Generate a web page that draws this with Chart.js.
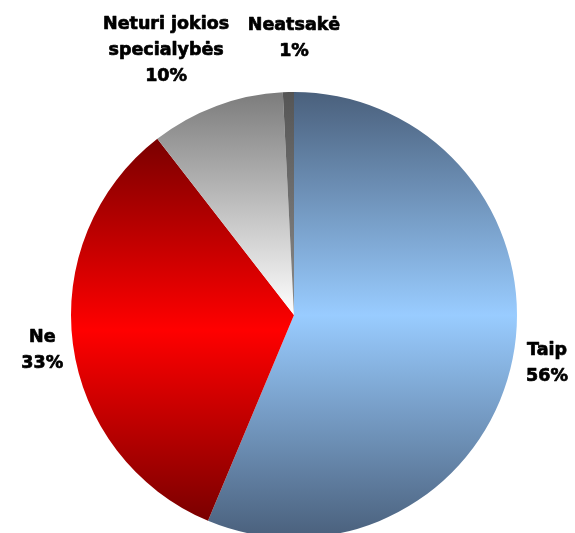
<!DOCTYPE html>
<html><head><meta charset="utf-8">
<script src="https://cdn.jsdelivr.net/npm/chart.js@4.4.0/dist/chart.umd.min.js"></script>
<style>
html,body{margin:0;padding:0;background:#fff;overflow:hidden;width:575px;height:533px}
#wrap{position:relative;width:575px;height:545px}
</style></head>
<body><div id="wrap"><canvas id="c"></canvas></div>
<script>
const categories = ['Taip', 'Ne', 'Neturi jokios specialybės', 'Neatsakė'];
const values = [56.3, 33.2, 9.7, 0.8];
const labelLines = [['Taip'], ['Ne'], ['Neturi jokios', 'specialybės'], ['Neatsakė']];
const gradientStops = [
  ['#4a607c', '#99ccff', '#4a607c'],
  ['#7a0000', '#ff0000', '#7a0000'],
  ['#7c7c7c', '#ffffff'],
  ['#555555', '#8a8a8a']
];
const labelNudges = [[4, -2], [0, 1], [-25, -10], [7, -18]];

const total = values.reduce((a, b) => a + b, 0);

function sliceYRange(i, cy, r) {
  let cum = 0;
  for (let k = 0; k < i; k++) cum += values[k];
  const a0 = -Math.PI / 2 + 2 * Math.PI * cum / total;
  const a1 = a0 + 2 * Math.PI * values[i] / total;
  const ys = [cy, cy + r * Math.sin(a0), cy + r * Math.sin(a1)];
  const contains = (a) => {
    for (let t = a - 4 * Math.PI; t <= a + 4 * Math.PI; t += 2 * Math.PI) {
      if (t >= a0 && t <= a1) return true;
    }
    return false;
  };
  if (contains(-Math.PI / 2)) ys.push(cy - r);
  if (contains(Math.PI / 2)) ys.push(cy + r);
  return [Math.min(...ys), Math.max(...ys)];
}

function bg(context) {
  const chart = context.chart;
  const area = chart.chartArea;
  const i = context.dataIndex;
  const stops = gradientStops[i];
  if (!area) return stops[1];
  const cy = (area.top + area.bottom) / 2;
  const r = Math.min(area.right - area.left, area.bottom - area.top) / 2;
  const [y0, y1] = sliceYRange(i, cy, r);
  const g = chart.ctx.createLinearGradient(0, y0, 0, y1);
  stops.forEach((c, k) => g.addColorStop(k / (stops.length - 1), c));
  return g;
}

const labelPlugin = {
  id: 'outLabels',
  afterDatasetsDraw(chart) {
    const meta = chart.getDatasetMeta(0);
    const ctx = chart.ctx;
    ctx.save();
    ctx.font = 'bold 17.5px "DejaVu Sans"';
    ctx.fillStyle = '#000';
    ctx.strokeStyle = '#000';
    ctx.lineWidth = 0.7;
    ctx.lineJoin = 'round';
    ctx.textAlign = 'center';
    ctx.textBaseline = 'middle';
    const lh = 26;
    meta.data.forEach((arc, i) => {
      const lines = labelLines[i].concat([Math.round(values[i] / total * 100) + '%']);
      const mid = (arc.startAngle + arc.endAngle) / 2;
      const ux = Math.cos(mid), uy = Math.sin(mid);
      const w = Math.max(...lines.map(l => ctx.measureText(l).width));
      const h = lines.length * lh;
      const d = arc.outerRadius + 10;
      const cx = arc.x + ux * d + ux * w / 2 + labelNudges[i][0];
      const cyy = arc.y + uy * d + uy * h / 2 + labelNudges[i][1];
      lines.forEach((l, k) => {
        const y = cyy - h / 2 + lh / 2 + k * lh;
        ctx.fillText(l, cx, y);
        ctx.strokeText(l, cx, y);
      });
    });
    ctx.restore();
  }
};

new Chart(document.getElementById('c'), {
  type: 'pie',
  data: {
    labels: categories,
    datasets: [{
      data: values,
      backgroundColor: bg,
      borderWidth: 0
    }]
  },
  options: {
    responsive: true,
    maintainAspectRatio: false,
    animation: false,
    layout: { padding: { top: 92, bottom: 7, left: 71, right: 58 } },
    plugins: { legend: { display: false }, tooltip: { enabled: false } }
  },
  plugins: [labelPlugin]
});
</script>
</body></html>
